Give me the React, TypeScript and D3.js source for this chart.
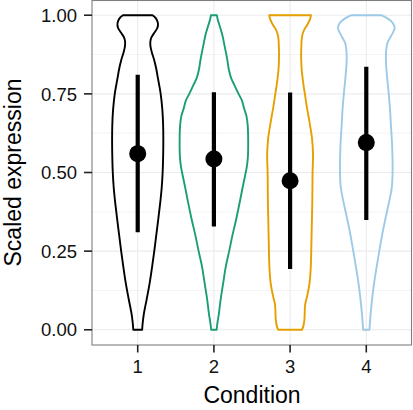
import React from "react";
import * as d3 from "d3";

const conditions = ["1", "2", "3", "4"];
const colors = ["#000000", "#1B9E77", "#E69F00", "#9DCAE8"];
const means = [0.56, 0.543, 0.474, 0.595];
const lows = [0.31, 0.328, 0.193, 0.349];
const highs = [0.811, 0.755, 0.754, 0.836];
const yTicks = [0, 0.25, 0.5, 0.75, 1];
const yMinor = [0.125, 0.375, 0.625, 0.875];

// violin density profiles (level, relative density)
const levels1 = [0, 0.02, 0.05, 0.1, 0.15, 0.2, 0.25, 0.3, 0.35, 0.4, 0.45, 0.5, 0.55, 0.6, 0.65, 0.7, 0.75, 0.8, 0.83, 0.86, 0.88, 0.9, 0.915, 0.93, 0.945, 0.96, 0.975, 0.99, 1];
const dens1 = [4.5, 5, 6.2, 9.3, 12.2, 14.6, 16.8, 18.8, 20.8, 22.7, 24.3, 25.3, 25.8, 26, 25.8, 25, 23.3, 20.5, 18.8, 16.5, 14.5, 13, 12.8, 14, 17, 20, 20.5, 18.5, 15];

const levels2 = [0, 0.02, 0.05, 0.1, 0.15, 0.2, 0.25, 0.3, 0.35, 0.41, 0.45, 0.48, 0.52, 0.55, 0.6, 0.65, 0.68, 0.7, 0.73, 0.75, 0.78, 0.8, 0.83, 0.86, 0.9, 0.94, 0.97, 0.985, 1];
const dens2 = [2.8, 3.5, 5, 7, 9.5, 12, 15.5, 18.8, 22.5, 26.5, 29, 31, 33.5, 34.5, 34.8, 34.3, 33, 31, 28.3, 25, 20.5, 17.5, 15, 13.5, 11, 8.3, 5.5, 4, 3];

const levels3 = [0, 0.01, 0.02, 0.035, 0.05, 0.08, 0.11, 0.15, 0.2, 0.3, 0.4, 0.5, 0.556, 0.61, 0.66, 0.714, 0.75, 0.78, 0.82, 0.84, 0.873, 0.9, 0.925, 0.94, 0.955, 0.97, 0.985, 1];
const dens3 = [12, 13.3, 14, 14.6, 14.8, 15.3, 17.5, 19.8, 21, 21.8, 22.5, 22.8, 23.3, 22.2, 19.7, 16.7, 15, 13.5, 12, 11.5, 11.2, 11.4, 11.8, 12.7, 14.5, 17.5, 20, 21.2];

const levels4 = [0, 0.05, 0.1, 0.15, 0.2, 0.25, 0.3, 0.35, 0.4, 0.45, 0.5, 0.55, 0.6, 0.65, 0.7, 0.75, 0.8, 0.85, 0.88, 0.91, 0.93, 0.945, 0.96, 0.975, 0.99, 1];
const dens4 = [3.2, 4.4, 6, 8, 10.5, 13.2, 16, 19.2, 22.7, 25.8, 26.7, 26.6, 26, 25, 24.1, 22.8, 21.2, 20, 20, 21.3, 24.5, 27, 28.8, 27, 21.5, 15];

const allLevels = [levels1, levels2, levels3, levels4];
const allDens = [dens1, dens2, dens3, dens4];

export default function App() {
  const W = 413;
  const H = 410;
  const left = 92;
  const right = 412;
  const top = -0.5;
  const bottom = 345.5;
  const font = "'Liberation Sans', Arial, Helvetica, sans-serif";

  const x = d3.scaleLinear().domain([0.4, 4.6]).range([left, right]);
  const y = d3.scaleLinear().domain([-0.05, 1.05]).range([bottom, top]);
  const step = x(2) - x(1);
  const maxD = d3.max(allDens.flat()) as number;
  const wScale = d3.scaleLinear().domain([0, maxD]).range([0, 0.45 * step]);

  const violinPaths = conditions.map((c, i) => {
    const cx = x(i + 1);
    const pts = allLevels[i].map((lv, j) => [lv, allDens[i][j]] as [number, number]);
    const area = d3
      .area<[number, number]>()
      .y((d) => y(d[0]))
      .x0((d) => cx - wScale(d[1]))
      .x1((d) => cx + wScale(d[1]))
      .curve(d3.curveCatmullRom);
    return area(pts) as string;
  });

  return (
    <svg
      width={W}
      height={H}
      style={{ position: "absolute", left: 0, top: 0, display: "block", background: "#fff" }}
    >
      <rect x={0} y={0} width={W} height={H} fill="#ffffff" />
      {/* grid */}
      {yMinor.map((t) => (
        <line key={"mn" + t} x1={left} x2={right} y1={y(t)} y2={y(t)} stroke="#F3F3F3" strokeWidth={1} />
      ))}
      {yTicks.map((t) => (
        <line key={"mj" + t} x1={left} x2={right} y1={y(t)} y2={y(t)} stroke="#EBEBEB" strokeWidth={1.1} />
      ))}
      {conditions.map((c, i) => (
        <line key={"vx" + c} x1={x(i + 1)} x2={x(i + 1)} y1={top} y2={bottom} stroke="#EBEBEB" strokeWidth={1.1} />
      ))}
      {/* violins */}
      {violinPaths.map((p, i) => (
        <path key={"v" + i} d={p} fill="none" stroke={colors[i]} strokeWidth={1.9} strokeLinejoin="round" />
      ))}
      {/* mean +/- sd */}
      {conditions.map((c, i) => (
        <g key={"s" + c}>
          <line x1={x(i + 1)} x2={x(i + 1)} y1={y(lows[i])} y2={y(highs[i])} stroke="#000" strokeWidth={4.2} />
          <circle cx={x(i + 1)} cy={y(means[i])} r={8.5} fill="#000" />
        </g>
      ))}
      {/* panel border */}
      <rect x={left} y={0.5} width={right - left - 0.5} height={bottom - 1} fill="none" stroke="#7F7F7F" strokeWidth={1.1} />
      {/* y axis */}
      {yTicks.map((t) => (
        <g key={"yt" + t}>
          <line x1={left - 8} x2={left} y1={y(t)} y2={y(t)} stroke="#222" strokeWidth={1.6} />
          <text
            x={left - 15}
            y={y(t)}
            dy="0.36em"
            textAnchor="end"
            fontFamily={font}
            fontSize={18.5}
            fill="#111"
          >
            {d3.format(".2f")(t)}
          </text>
        </g>
      ))}
      {/* x axis */}
      {conditions.map((c, i) => (
        <g key={"xt" + c}>
          <line x1={x(i + 1)} x2={x(i + 1)} y1={bottom - 0.5} y2={bottom + 7} stroke="#222" strokeWidth={1.6} />
          <text x={x(i + 1)} y={373} textAnchor="middle" fontFamily={font} fontSize={18.5} fill="#111">
            {c}
          </text>
        </g>
      ))}
      <text x={(left + right) / 2} y={403} textAnchor="middle" fontFamily={font} fontSize={23} fill="#000">
        Condition
      </text>
      <text
        transform={`translate(21,${(top + bottom) / 2}) rotate(-90)`}
        textAnchor="middle"
        fontFamily={font}
        fontSize={23}
        fill="#000"
      >
        Scaled expression
      </text>
    </svg>
  );
}
